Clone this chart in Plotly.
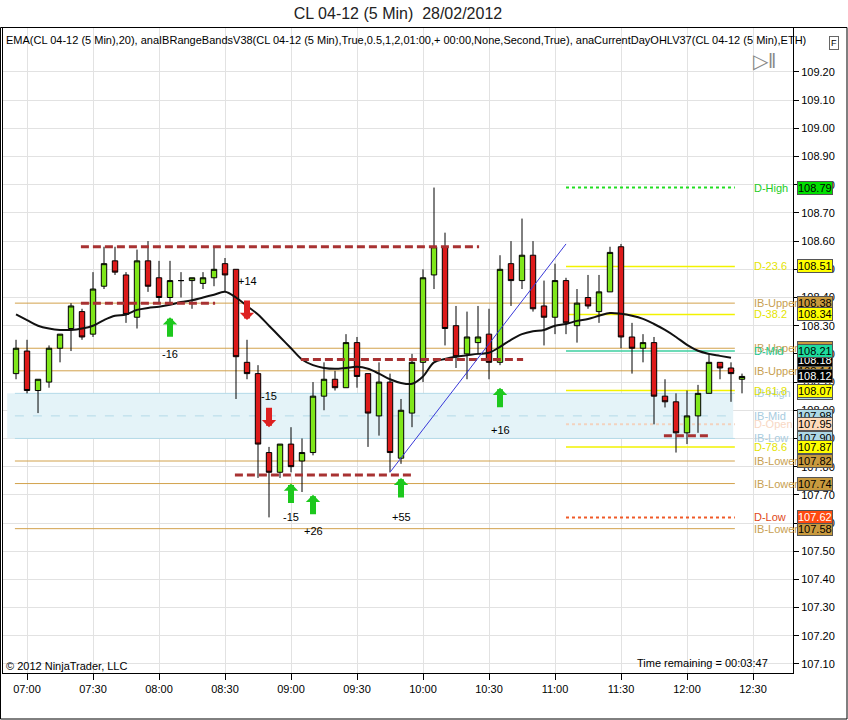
import pandas as pd
import plotly.graph_objects as go

# 0. Data (CL 04-12, 5 min bars, 28/02/2012)
# =================================================================

bar_start = "2012-02-28 06:55"

open_ = [108.13, 108.21, 108.07, 108.10, 108.22, 108.29, 108.35, 108.27, 108.44, 108.53,
         108.48, 108.33, 108.53, 108.47, 108.40, 108.46, 108.46, 108.45, 108.47, 108.52,
         108.50, 108.17, 108.13, 107.85, 107.78, 107.88, 107.82, 107.85, 108.05, 108.11,
         108.08, 108.24, 108.13, 107.98, 108.10, 107.83, 107.99, 108.17, 108.48, 108.58,
         108.30, 108.20, 108.24, 108.27, 108.17, 108.52, 108.46, 108.55, 108.37, 108.33,
         108.46, 108.30, 108.40, 108.35, 108.42, 108.58, 108.26, 108.22, 108.24, 108.05,
         108.03, 107.92, 107.98, 108.06, 108.17, 108.15, 108.11]
high = [108.25, 108.25, 108.11, 108.23, 108.27, 108.38, 108.36, 108.49, 108.58, 108.58,
        108.49, 108.57, 108.60, 108.53, 108.53, 108.49, 108.47, 108.49, 108.58, 108.54,
        108.50, 108.25, 108.16, 107.87, 107.88, 107.94, 107.90, 108.10, 108.17, 108.14,
        108.27, 108.26, 108.13, 108.17, 108.13, 108.04, 108.20, 108.50, 108.79, 108.63,
        108.37, 108.35, 108.37, 108.36, 108.55, 108.60, 108.68, 108.60, 108.46, 108.52,
        108.47, 108.43, 108.48, 108.48, 108.58, 108.59, 108.31, 108.27, 108.26, 108.11,
        108.06, 108.07, 108.09, 108.20, 108.17, 108.17, 108.13]
low = [108.11, 108.06, 107.99, 108.08, 108.17, 108.21, 108.25, 108.26, 108.43, 108.48,
       108.31, 108.29, 108.42, 108.38, 108.38, 108.40, 108.36, 108.43, 108.44, 108.42,
       108.04, 108.11, 107.76, 107.62, 107.76, 107.78, 107.71, 107.84, 108.00, 108.07,
       108.08, 108.08, 107.87, 107.91, 107.78, 107.81, 107.94, 108.10, 108.43, 108.23,
       108.15, 108.11, 108.20, 108.11, 108.16, 108.37, 108.43, 108.35, 108.23, 108.27,
       108.27, 108.24, 108.36, 108.31, 108.42, 108.22, 108.13, 108.17, 107.95, 108.01,
       107.85, 107.88, 107.92, 108.06, 108.11, 108.03, 108.06]
close = [108.22, 108.07, 108.11, 108.22, 108.27, 108.37, 108.26, 108.43, 108.52, 108.49,
         108.34, 108.53, 108.44, 108.40, 108.46, 108.46, 108.47, 108.47, 108.50, 108.48,
         108.19, 108.13, 107.88, 107.78, 107.88, 107.80, 107.85, 108.05, 108.11, 108.08,
         108.24, 108.12, 107.99, 108.10, 107.85, 108.00, 108.17, 108.47, 108.58, 108.29,
         108.19, 108.26, 108.26, 108.17, 108.50, 108.46, 108.55, 108.36, 108.33, 108.46,
         108.31, 108.38, 108.37, 108.42, 108.56, 108.26, 108.22, 108.24, 108.05, 108.03,
         107.92, 107.98, 108.06, 108.17, 108.15, 108.13, 108.12]

# EMA(20)
ema = [108.34, 108.32, 108.30, 108.29, 108.285, 108.285, 108.29, 108.30, 108.32, 108.335,
       108.34, 108.356, 108.363, 108.367, 108.374, 108.384, 108.39, 108.40, 108.41, 108.42,
       108.40, 108.37, 108.34, 108.30, 108.26, 108.22, 108.18, 108.16, 108.15, 108.147,
       108.15, 108.154, 108.147, 108.13, 108.11, 108.097, 108.094, 108.12, 108.17, 108.182,
       108.19, 108.195, 108.20, 108.204, 108.225, 108.25, 108.27, 108.28, 108.285, 108.30,
       108.306, 108.317, 108.324, 108.335, 108.345, 108.342, 108.335, 108.324, 108.306, 108.285,
       108.26, 108.232, 108.211, 108.20, 108.193, 108.186]

# Initial balance range bands
ib_names = ["IB-Upper", "IB-Upper", "IB-Upper", "IB-High", "IB-Mid", "IB-Low",
            "IB-Lower", "IB-Lower", "IB-Lower"]
ib_values = [108.38, 108.22, 108.14, 108.06, 107.98, 107.90, 107.82, 107.74, 107.58]

# current day OHL + fib levels
d_names = ["D-High", "D-23.6", "D-38.2", "D-Mid", "D-61.8", "D-Open", "D-78.6", "D-Low"]
d_values = [108.79, 108.51, 108.34, 108.21, 108.07, 107.95, 107.87, 107.62]

# hand drawn support / resistance lines (bar index start, end, price)
sr_start = [6, 6, 26, 20, 59]
sr_end = [42, 18, 46, 36, 63]
sr_price = [108.58, 108.38, 108.18, 107.77, 107.91]

# trend line (bar index, price)
trend_bars = [34, 50]
trend_prices = [107.78, 108.59]

# trade signals
sig_bars = [14, 21, 23, 25, 27, 35, 44]
sig_dir = ["up", "down", "down", "up", "up", "up", "up"]
sig_price = [108.33, 108.32, 107.94, 107.74, 107.70, 107.76, 108.08]
sig_text = ["-16", "+14", "-15", "-15", "+26", "+55", "+16"]
sig_text_price = [108.20, 108.46, 108.05, 107.62, 107.57, 107.62, 107.93]

last_price = 108.12
ema_last = 108.18

# price axis labels
price_ticks = [107.10, 107.20, 107.30, 107.40, 107.50, 107.60, 107.70, 107.80, 107.90, 108.00,
               108.10, 108.20, 108.30, 108.40, 108.50, 108.60, 108.70, 108.80, 108.90, 109.00,
               109.10, 109.20]


# 1. Styles
# =================================================================

FONT = "Liberation Sans, Arial, sans-serif"
UP = "#7FE61A"
DOWN = "#DD1A1A"
TAN = "#D2A24C"
YEL = "#F2F200"
LBLUE = "#B4DAE8"

ib_line = [TAN, TAN, TAN, LBLUE, LBLUE, LBLUE, TAN, TAN, TAN]
ib_dash = ["solid"] * 4 + ["dash"] + ["solid"] * 4
ib_tag = ["#C99A3E"] * 3 + ["#ADD8E6"] * 3 + ["#C99A3E"] * 3
ib_txt = ["#C8A050"] * 3 + ["#A8CCE0"] * 3 + ["#C8A050"] * 3

d_line = ["#22DD22", YEL, YEL, "#3CCFA0", YEL, "#F2D2BE", YEL, "#F05A28"]
d_dash = ["dot", "solid", "solid", "solid", "solid", "dot", "solid", "dot"]
d_width = [2, 1.5, 1.5, 1.5, 1.5, 2, 1.5, 2]
d_tag = ["#00E000", "#FFFF00", "#FFFF00", "#1EDC9E", "#FFFF00", "#FFDAB9", "#FFFF00", "#FF4A10"]
d_txt = ["#22CC22", "#E4E400", "#E4E400", "#22C890", "#E4E400", "#F8D8C4", "#E4E400", "#E04818"]
d_fontcol = ["black"] * 7 + ["white"]

times = pd.date_range(bar_start, periods=len(close), freq="5min")
bar = pd.Timedelta(minutes=5)

# pixel helpers for layout placement (plot area: x 3..793, y 28..673)
def px_x(px):
    return (px - 3) / 790

def px_y(py):
    return (673 - py) / 645

x_lo = pd.Timestamp("2012-02-28 06:49:05")
x_hi = pd.Timestamp("2012-02-28 12:48:11")


# 2. Plot
# =================================================================

fig = go.Figure()

fig.add_trace(go.Candlestick(
    x=times, open=open_, high=high, low=low, close=close,
    increasing=dict(fillcolor=UP, line=dict(color="black", width=1)),
    decreasing=dict(fillcolor=DOWN, line=dict(color="black", width=1)),
    whiskerwidth=0, showlegend=False, hoverinfo="skip"))

fig.add_trace(go.Scatter(x=times[:len(ema)], y=ema, mode="lines",
                         line=dict(color="#111111", width=2, shape="spline"),
                         showlegend=False, hoverinfo="skip"))

for s, e, p in zip(sr_start, sr_end, sr_price):
    fig.add_trace(go.Scatter(x=[times[s] - bar * 0.1, times[e] + bar * 0.1], y=[p, p], mode="lines",
                             line=dict(color="#A83232", width=3, dash="8px,4px"),
                             showlegend=False, hoverinfo="skip"))

fig.add_trace(go.Scatter(x=[times[b] for b in trend_bars], y=trend_prices, mode="lines",
                         line=dict(color="#3838D8", width=1),
                         showlegend=False, hoverinfo="skip"))

# IB band and level lines
ib_x0 = times[0] - bar * 0.1
lvl_x1 = times[65] + bar * 0.35
d_x0 = times[50]

fig.add_shape(type="rect", layer="between", xref="x", yref="y",
              x0=times[0] - bar * 0.8, x1=times[65] + bar * 0.2,
              y0=ib_values[5], y1=ib_values[3],
              fillcolor="#E4F3F8", line=dict(width=0))

for v, c, dsh in zip(ib_values, ib_line, ib_dash):
    fig.add_shape(type="line", layer="between", xref="x", yref="y",
                  x0=ib_x0, x1=lvl_x1, y0=v, y1=v, line=dict(color=c, width=1, dash=dsh))

for v, c, dsh, w in zip(d_values, d_line, d_dash, d_width):
    fig.add_shape(type="line", layer="between", xref="x", yref="y",
                  x0=d_x0, x1=lvl_x1, y0=v, y1=v, line=dict(color=c, width=w, dash=dsh))

# level names
label_x = pd.Timestamp("2012-02-28 12:29:20")
for n, v, c in list(zip(ib_names, ib_values, ib_txt)) + list(zip(d_names, d_values, d_txt)):
    fig.add_annotation(x=label_x, y=v, text=n, showarrow=False, xanchor="left",
                       font=dict(family=FONT, size=11, color=c))

# price tags on the axis
tag_vals = ib_values + [ema_last] + d_values + [last_price]
tag_bg = ib_tag + ["#000000"] + d_tag + ["#000000"]
tag_fc = ["black"] * len(ib_values) + ["white"] + d_fontcol + ["white"]

fig.add_trace(go.Scatter(x=[x_hi + pd.Timedelta(seconds=100)] * len(tag_vals), y=tag_vals,
                         mode="markers", cliponaxis=False,
                         marker=dict(symbol="triangle-left", size=10, color=tag_bg,
                                     line=dict(color="#555555", width=1)),
                         showlegend=False, hoverinfo="skip"))

for v, bg, fc in zip(tag_vals, tag_bg, tag_fc):
    fig.add_annotation(xref="paper", x=1, xshift=4, y=v, yref="y", text=f"{v:.2f}",
                       showarrow=False, xanchor="left", bgcolor=bg, bordercolor="#555555",
                       borderwidth=1, borderpad=0,
                       font=dict(family=FONT, size=11, color=fc))

# signals
for b, d, p, t, tp in zip(sig_bars, sig_dir, sig_price, sig_text, sig_text_price):
    col = "#1DC81D" if d == "up" else "#DD2020"
    fig.add_annotation(x=times[b], y=p, text="", showarrow=True, ax=0,
                       ay=21 if d == "up" else -21, arrowhead=1, arrowsize=0.4,
                       arrowwidth=6, arrowcolor=col)
    fig.add_annotation(x=times[b], y=tp, text=t, showarrow=False,
                       font=dict(family=FONT, size=11, color="black"))

# texts
fig.add_annotation(xref="paper", yref="paper", x=px_x(4), y=px_y(40), xanchor="left",
                   yanchor="middle", showarrow=False,
                   text="EMA(CL 04-12 (5 Min),20), anaIBRangeBandsV38(CL 04-12 (5 Min),True,0.5,1,2,01:00,+ 00:00,None,Second,True), anaCurrentDayOHLV37(CL 04-12 (5 Min),ETH)",
                   font=dict(family=FONT, size=11, color="black"))
fig.add_annotation(xref="paper", yref="paper", x=px_x(4), y=px_y(666), xanchor="left",
                   yanchor="middle", showarrow=False, text="© 2012 NinjaTrader, LLC",
                   font=dict(family=FONT, size=11, color="black"))
fig.add_annotation(xref="paper", yref="paper", x=px_x(770), y=px_y(663), xanchor="right",
                   yanchor="middle", showarrow=False, text="Time remaining = 00:03:47",
                   font=dict(family=FONT, size=11, color="black"))
fig.add_annotation(xref="paper", yref="paper", x=px_x(839), y=px_y(36), showarrow=False,
                   text="F", bordercolor="#666666", borderwidth=1, borderpad=1,
                   font=dict(family=FONT, size=9, color="black"))
fig.add_annotation(xref="paper", yref="paper", x=px_x(778), y=px_y(48), showarrow=False,
                   text="▷‖", font=dict(family=FONT, size=20, color="#888888"))

# outer panel frame
fig.add_shape(type="rect", xref="paper", yref="paper", x0=px_x(0.5), x1=px_x(847),
              y0=px_y(719), y1=px_y(27.5), line=dict(color="black", width=1))

fig.update_layout(
    width=848, height=720,
    margin=dict(l=3, r=55, t=28, b=47),
    paper_bgcolor="white", plot_bgcolor="white",
    font=dict(family=FONT, size=11, color="black"),
    title=dict(text="CL 04-12 (5 Min)  28/02/2012", x=0.5, xref="paper", y=1 - 13 / 720,
               yref="container", xanchor="center", yanchor="middle",
               font=dict(family=FONT, size=16, color="#222222")),
    showlegend=False,
)

fig.update_xaxes(type="date", range=[x_lo, x_hi], rangeslider_visible=False,
                 tick0="2012-02-28 07:00", dtick=30 * 60 * 1000, tickformat="%H:%M",
                 ticks="outside", ticklen=6, tickcolor="black",
                 showgrid=True, gridcolor="#E2E2E2", gridwidth=1,
                 showline=True, linecolor="black", linewidth=1, mirror=True,
                 tickfont=dict(family=FONT, size=11), zeroline=False)

fig.update_yaxes(range=[107.068, 109.356], side="right", tickmode="array",
                 tickvals=price_ticks, ticktext=[f"{t:.2f}" for t in price_ticks],
                 ticks="outside", ticklen=5, tickcolor="black",
                 showgrid=True, gridcolor="#E2E2E2", gridwidth=1,
                 showline=True, linecolor="black", linewidth=1, mirror=True,
                 tickfont=dict(family=FONT, size=11), zeroline=False)

# page has a default body margin; drop it so the chart sits at the window corner
fig.write_html("out.html", config={"displayModeBar": False},
               post_script="document.body.style.margin='0px';")
